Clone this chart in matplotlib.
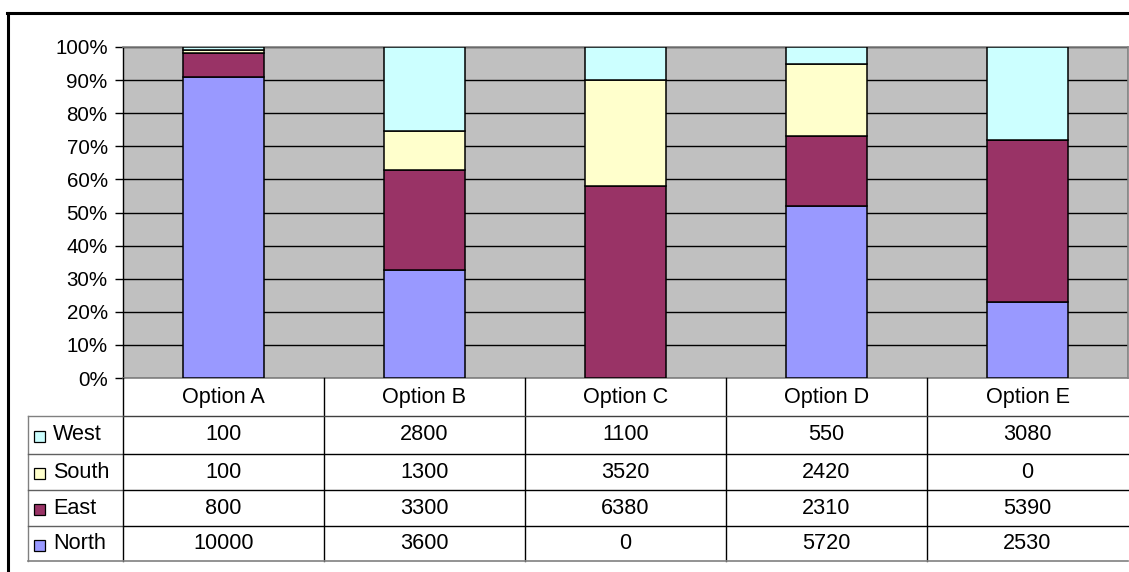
import matplotlib.pyplot as plt
from matplotlib.lines import Line2D
from matplotlib.patches import Rectangle
import numpy as np

plt.rcParams['font.family'] = ['Liberation Sans', 'DejaVu Sans']

options = ["Option A", "Option B", "Option C", "Option D", "Option E"]
north = [10000, 3600, 0, 5720, 2530]
east = [800, 3300, 6380, 2310, 5390]
south = [100, 1300, 3520, 2420, 0]
west = [100, 2800, 1100, 550, 3080]

series = [("North", north, "#9999FF"),
          ("East", east, "#993366"),
          ("South", south, "#FFFFCC"),
          ("West", west, "#CCFFFF")]

W, H = 1129, 572
fig = plt.figure(figsize=(W / 100, H / 100), dpi=100)


def fx(px):
    return px / W


def fy(py):
    return 1 - py / H


# plot area
left, right, top, bottom = 123, 1128, 47, 378
ax = fig.add_axes([fx(left), fy(bottom), fx(right) - fx(left), fy(top) - fy(bottom)])
ax.set_facecolor("#C0C0C0")

totals = np.sum([s[1] for s in series], axis=0)
x = np.arange(len(options))
base = np.zeros(len(options))
for name, vals, col in series:
    pct = np.array(vals) / totals * 100
    ax.bar(x, pct, width=0.4, bottom=base, color=col, edgecolor="black",
           linewidth=1.1, zorder=3)
    base += pct

ax.set_xlim(-0.5, len(options) - 0.5)
ax.set_ylim(0, 100)
ax.set_yticks(range(0, 101, 10))
ax.set_yticklabels([f"{v}%" for v in range(0, 101, 10)], fontsize=14.8)
ax.tick_params(axis="y", length=6, width=1, color="black", pad=5)
ax.set_xticks([])
ax.yaxis.grid(True, color="black", linewidth=1, zorder=0)
ax.set_axisbelow(True)
for sp in ["top", "right", "bottom"]:
    ax.spines[sp].set_color("#808080")
    ax.spines[sp].set_linewidth(1.2)
ax.spines["left"].set_color("black")
ax.spines["left"].set_linewidth(1)

# data table
cols = np.linspace(left, right, len(options) + 1)
rows = [378, 416, 454, 490, 526, 561]
lab_left = 28
fs = 15.6


def hline(y, x0, x1, color="black", lw=1.0):
    fig.add_artist(Line2D([fx(x0), fx(x1)], [fy(y), fy(y)], color=color, lw=lw))


def vline(xp, y0, y1, color="black", lw=1.0):
    fig.add_artist(Line2D([fx(xp), fx(xp)], [fy(y0), fy(y1)], color=color, lw=lw))


for c in cols[:-1]:
    vline(c, rows[0], rows[-1])
vline(lab_left, rows[1], rows[-1], color="#808080")
hline(rows[1], lab_left, cols[0], color="#808080")
hline(rows[1], cols[0], right, color="#404040")
for r in rows[2:-1]:
    hline(r, lab_left, cols[0], color="#606060")
    hline(r, cols[0], right, color="black")
hline(rows[-1], lab_left, right, color="#808080", lw=1.2)

for i, opt in enumerate(options):
    fig.text(fx((cols[i] + cols[i + 1]) / 2), fy((rows[0] + rows[1]) / 2 + 1), opt,
             ha="center", va="center", fontsize=fs)

table_order = list(reversed(series))
for j, (name, vals, col) in enumerate(table_order):
    yc = (rows[j + 1] + rows[j + 2]) / 2
    fig.add_artist(Rectangle((fx(34), fy(yc + 7)), fx(11), 11 / H,
                             facecolor=col, edgecolor="black", lw=0.9))
    fig.text(fx(53), fy(yc), name, ha="left", va="center", fontsize=fs)
    for i, v in enumerate(vals):
        fig.text(fx((cols[i] + cols[i + 1]) / 2), fy(yc), str(v),
                 ha="center", va="center", fontsize=fs)

# outer chart frame
hline(13, 7, W, lw=2.2)
vline(8, 13, H, lw=2.2)

fig.savefig("out.png", dpi=100)
